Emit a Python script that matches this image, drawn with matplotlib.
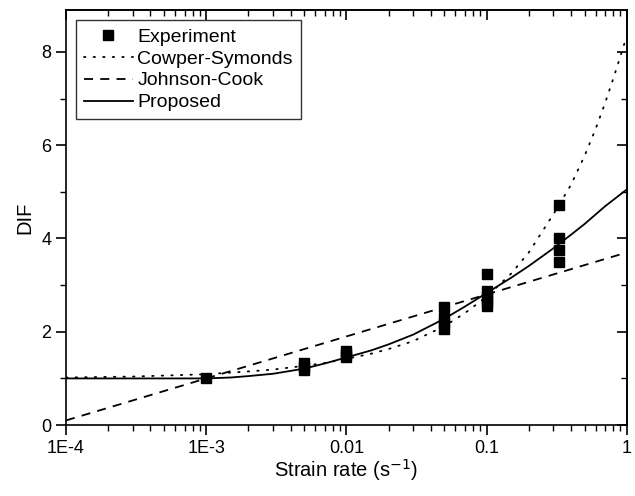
import matplotlib
matplotlib.use('Agg')
import matplotlib.pyplot as plt
from matplotlib.ticker import FixedLocator, LogLocator, NullFormatter, MultipleLocator

plt.rcParams['font.family'] = ['Liberation Sans', 'DejaVu Sans']

# Experimental dynamic increase factors
exp_rate = [1e-3, 5e-3, 5e-3, 5e-3, 0.01, 0.01, 0.01,
            0.05, 0.05, 0.05, 0.05,
            0.1, 0.1, 0.1, 0.1, 0.1,
            0.33, 0.33, 0.33, 0.33]
exp_dif = [1.0, 1.17, 1.25, 1.32, 1.45, 1.52, 1.58,
           2.07, 2.18, 2.30, 2.54,
           2.55, 2.65, 2.75, 2.87, 3.23,
           3.50, 3.75, 4.02, 4.72]

# Cowper-Symonds curve
cs_rate = [1e-4, 3e-4, 1e-3, 2e-3, 3e-3, 5e-3, 7e-3, 0.01, 0.015, 0.02, 0.03, 0.05, 0.07,
           0.1, 0.15, 0.2, 0.3, 0.4, 0.5, 0.6, 0.7, 0.8, 0.9, 1.0]
cs_dif = [1.02, 1.04, 1.09, 1.15, 1.19, 1.27, 1.33, 1.42, 1.53, 1.63, 1.80, 2.12, 2.40,
          2.75, 3.25, 3.70, 4.52, 5.15, 5.77, 6.35, 6.90, 7.42, 7.90, 8.34]

# Johnson-Cook curve
jc_rate = [1e-4, 1e-3, 0.01, 0.1, 1.0]
jc_dif = [0.10, 1.00, 1.90, 2.80, 3.70]

# Proposed model
pr_rate = [1e-4, 5e-4, 1e-3, 1.5e-3, 2e-3, 3e-3, 5e-3, 7e-3, 0.01, 0.015, 0.02, 0.03, 0.05,
           0.07, 0.1, 0.15, 0.2, 0.3, 0.4, 0.5, 0.7, 1.0]
pr_dif = [1.0, 1.0, 1.0, 1.02, 1.05, 1.10, 1.21, 1.32, 1.45, 1.60, 1.73, 1.94, 2.28,
          2.54, 2.83, 3.16, 3.41, 3.79, 4.08, 4.31, 4.69, 5.05]

xtick_vals = [1e-4, 1e-3, 1e-2, 1e-1, 1]
xtick_labels = ['1E-4', '1E-3', '0.01', '0.1', '1']

fig = plt.figure(figsize=(6.35, 4.96), dpi=100)
ax = fig.add_axes([0.104, 0.143, 0.883, 0.837])

ax.plot(exp_rate, exp_dif, 's', color='black', markersize=7, label='Experiment', zorder=5)
ax.plot(cs_rate, cs_dif, color='black', lw=1.3, linestyle=(0, (0.8, 4.5)),
        dash_capstyle='round', label='Cowper-Symonds')
ax.plot(jc_rate, jc_dif, color='black', lw=1.3, linestyle=(0, (5, 4)), label='Johnson-Cook')
ax.plot(pr_rate, pr_dif, color='black', lw=1.3, linestyle='-', label='Proposed')

ax.set_xscale('log')
ax.set_xlim(1e-4, 1)
ax.set_ylim(0, 8.9)

ax.xaxis.set_major_locator(FixedLocator(xtick_vals))
ax.set_xticklabels(xtick_labels)
ax.xaxis.set_minor_locator(LogLocator(base=10, subs=range(2, 10)))
ax.xaxis.set_minor_formatter(NullFormatter())
ax.yaxis.set_major_locator(MultipleLocator(2))
ax.yaxis.set_minor_locator(MultipleLocator(1))

for s in ax.spines.values():
    s.set_linewidth(1.2)
ax.tick_params(which='major', direction='out', length=7, width=1.2, labelsize=13)
ax.tick_params(which='minor', direction='out', length=4, width=1.0)

# inward ticks on top and right
top = ax.secondary_xaxis('top')
top.xaxis.set_major_locator(FixedLocator(xtick_vals))
top.xaxis.set_minor_locator(LogLocator(base=10, subs=range(2, 10)))
top.xaxis.set_major_formatter(NullFormatter())
top.xaxis.set_minor_formatter(NullFormatter())
top.tick_params(which='major', direction='in', length=7, width=1.2)
top.tick_params(which='minor', direction='in', length=4, width=1.0)
top.spines['top'].set_linewidth(1.2)

right = ax.secondary_yaxis('right')
right.yaxis.set_major_locator(MultipleLocator(2))
right.yaxis.set_minor_locator(MultipleLocator(1))
right.yaxis.set_major_formatter(NullFormatter())
right.tick_params(which='major', direction='in', length=7, width=1.2)
right.tick_params(which='minor', direction='in', length=4, width=1.0)
right.spines['right'].set_linewidth(1.2)

ax.set_xlabel('Strain rate (s$^{-1}$)', fontsize=14.5, labelpad=0)
ax.set_ylabel('DIF', fontsize=14.5, labelpad=5)

leg = ax.legend(loc='upper left', bbox_to_anchor=(0.018, 0.975), fontsize=14, frameon=True,
                fancybox=False, edgecolor='black', handlelength=2.5, handletextpad=0.25,
                borderpad=0.4, borderaxespad=0, labelspacing=0.22, markerscale=1.0)
leg.get_frame().set_linewidth(1.0)

fig.savefig('out.png', dpi=100)
